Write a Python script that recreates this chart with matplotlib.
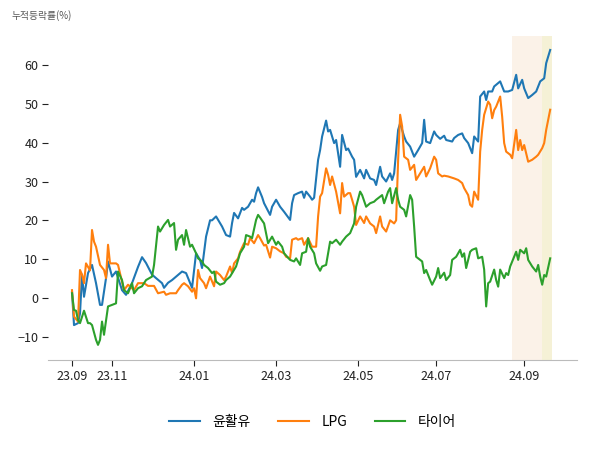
import matplotlib
matplotlib.use("Agg")
import matplotlib.pyplot as plt

plt.rcParams['font.family'] = ['Noto Sans CJK KR', 'DejaVu Sans']

# trading-day index (0 = 2023-09-27) and cumulative return (%)
lube_days = [0, 1, 3, 4, 5, 6, 8, 10, 12, 14, 15, 17, 18, 20, 22, 25, 27, 30, 33, 35,
             37, 40, 42, 45, 46, 48, 50, 53, 55, 57, 59, 60, 62, 64, 65, 67, 69, 70, 72, 74,
             75, 77, 79, 80, 81, 83, 85, 86, 88, 90, 91, 92, 93, 95, 96, 99, 100, 102, 104, 106,
             109, 110, 111, 113, 115, 116, 117, 119, 120, 121, 123, 124, 125, 127, 128, 129, 131, 132, 134, 135,
             137, 138, 140, 141, 142, 144, 146, 147, 149, 151, 152, 154, 155, 157, 159, 160, 161, 163, 164, 166,
             167, 169, 171, 173, 175, 176, 177, 179, 181, 182, 184, 186, 187, 190, 191, 193, 195, 196, 198, 200,
             201, 203, 204, 206, 207, 208, 210, 211, 214, 216, 218, 220, 222, 223, 225, 226, 228, 230, 232, 234,
             236, 237, 239]
lube_vals = [1.5, -7, -6.5, -4, 6, 0.3, 6.4, 8.5, 3.8, -1.8, -1.8, 5.1, 9.4, 5.5, 6.8, 2, 0.8, 3.8, 8, 10.5,
             9, 6, 5.1, 3.8, 2.6, 3.9, 4.6, 5.9, 6.8, 6.4, 3.9, 2.6, 11.5, 9.8, 7.7, 15.8, 20, 20, 21, 19.3,
             18.4, 16.2, 15.8, 19.3, 21.9, 20.5, 23.2, 22.7, 23.5, 25.3, 24.8, 27, 28.5, 26, 24.4, 21.4, 23.5, 25.3, 23.5, 22.2,
             20.1, 24.4, 26.5, 27, 27.4, 25.8, 27.4, 26.1, 25.3, 25.8, 35.6, 38.1, 41.6, 45.7, 42.9, 43.3, 39.9, 40.7, 33.8, 42,
             38.1, 38.5, 36.4, 35.6, 31.2, 33, 30.8, 33, 30.8, 30.4, 29.1, 33.8, 31.3, 30, 32.1, 30.4, 32.1, 43.3, 45, 41.6,
             40.3, 39, 36.4, 38.1, 39.9, 45.9, 40.3, 39.9, 42.9, 42, 41, 41.8, 40.7, 40.3, 41.2, 42, 42.4, 41.2, 39.9, 37.3,
             41.6, 40.3, 51.9, 53.2, 51, 53.2, 53.2, 54.5, 55.8, 53.2, 53.2, 53.6, 57.5, 54, 56.2, 54, 51.5, 52.3, 53.2, 55.8,
             56.6, 60.5, 63.9]

lpg_days = [0, 1, 3, 4, 5, 6, 7, 9, 10, 11, 12, 14, 16, 17, 18, 19, 22, 23, 25, 26,
            28, 31, 33, 36, 38, 41, 43, 46, 47, 49, 52, 53, 55, 56, 58, 60, 61, 62, 63, 64,
            66, 67, 69, 71, 72, 74, 76, 77, 79, 80, 81, 83, 84, 86, 88, 89, 91, 93, 94, 96,
            97, 99, 100, 102, 104, 106, 107, 109, 110, 112, 113, 115, 116, 118, 120, 122, 123, 124, 125, 127,
            128, 129, 130, 132, 134, 135, 136, 138, 139, 140, 141, 142, 144, 146, 147, 149, 151, 152, 154, 155,
            157, 159, 161, 162, 163, 164, 165, 166, 168, 169, 171, 172, 174, 176, 177, 179, 181, 182, 183, 185,
            186, 188, 191, 193, 195, 196, 198, 199, 200, 201, 203, 204, 205, 206, 208, 209, 210, 211, 212, 214,
            215, 216, 217, 219, 220, 222, 223, 224, 225, 226, 228, 230, 232, 233, 235, 236, 237, 239]
lpg_vals = [2, -4.8, -6.1, 7.2, 6, 3.8, 8.9, 7.1, 17.5, 14.5, 13.2, 8.5, 7.2, 5.1, 13.7, 8.9, 8.9, 8.5, 4.2, 2,
            3.4, 2, 3.8, 3.8, 3.1, 3.1, 1.2, 1.6, 0.8, 1.2, 1.2, 2, 3.4, 3.8, 3.0, 1.6, 2.5, -0.1, 7.2, 5.1,
            3.8, 2.5, 5.5, 3.0, 6.8, 5.9, 4.6, 5.5, 8.1, 6.4, 8.9, 10.2, 11.9, 14.1, 13.7, 15.4, 14.1, 16.2, 15.4, 13.5,
            13.7, 10.4, 13.2, 12.8, 12, 11.5, 10.6, 10.2, 15, 15.4, 15, 15.4, 13.7, 15.4, 13.2, 13.2, 21, 26.1, 27, 33.4,
            31.7, 29.1, 31.3, 27.4, 21.8, 29.6, 26.1, 27, 27, 25.3, 23.5, 18.8, 21, 19.3, 21, 19.2, 18.4, 16.7, 21, 18.4,
            17.1, 20, 19.2, 20, 35.6, 47.2, 44.2, 36.4, 35.6, 33, 34.3, 30.4, 32.1, 33.8, 31.3, 33.4, 36.4, 35.6, 32.1, 31.3,
            31.5, 31.3, 30.8, 30.4, 29.6, 28.3, 26.5, 24, 23.5, 27.4, 25.3, 37.7, 43.3, 47.2, 50.6, 49.8, 46.3, 48.4, 49.3, 51.9,
            46.7, 39.9, 37.7, 36.9, 36, 43.3, 38.1, 40.7, 38.1, 39.4, 35.1, 35.6, 36.4, 36.9, 38.6, 39.9, 43.3, 48.5]

tire_days = [0, 1, 2, 3, 4, 6, 8, 9, 10, 12, 13, 14, 15, 16, 18, 20, 22, 23, 25, 26,
             28, 30, 31, 33, 35, 37, 40, 41, 43, 44, 46, 48, 49, 51, 52, 53, 55, 56, 57, 59,
             60, 62, 63, 65, 66, 68, 70, 71, 72, 74, 76, 77, 79, 81, 82, 84, 86, 87, 89, 90,
             92, 93, 94, 96, 97, 98, 100, 102, 103, 105, 106, 109, 111, 112, 114, 115, 117, 118, 119, 121,
             122, 124, 125, 127, 129, 130, 132, 134, 135, 137, 139, 141, 142, 144, 145, 147, 149, 151, 152, 154,
             155, 156, 158, 159, 160, 162, 163, 164, 166, 167, 169, 170, 171, 172, 174, 175, 176, 177, 179, 180,
             182, 183, 184, 186, 187, 189, 190, 192, 194, 195, 196, 197, 199, 200, 202, 203, 205, 206, 207, 208,
             209, 211, 212, 213, 214, 216, 217, 218, 219, 221, 222, 223, 224, 226, 227, 228, 230, 232, 233, 234,
             235, 236, 237, 239]
tire_vals = [1.2, -3.1, -3.3, -5.7, -6.5, -3.3, -6.5, -6.5, -7, -10.8, -12.1, -10.8, -6.1, -9.5, -2.2, -1.8, -1.4, 6.8, 4.6, 2,
             1.2, 3.8, 1.2, 2.5, 3, 4.6, 5.5, 8.5, 18.4, 17.1, 18.8, 20.1, 18.4, 19.3, 12.4, 15, 16.2, 13.7, 17.5, 13.2,
             13.7, 11.5, 10.2, 9.4, 8.5, 7.7, 6.4, 6.8, 4.2, 3.4, 3.8, 4.6, 5.5, 7.2, 8.1, 11.5, 13.2, 16.2, 15.8, 15.4,
             20.1, 21.4, 20.7, 19.2, 16.7, 14.1, 15.8, 13.7, 14.5, 13.2, 11.5, 9.8, 9.4, 10.2, 8.5, 11.5, 11.9, 15.4, 13.2, 11.5,
             8.9, 7, 8.1, 8.5, 14.5, 14.1, 15, 13.7, 14.5, 15.8, 16.7, 19.2, 23.5, 27.4, 26.5, 23.5, 24.4, 24.8, 25.3, 26.1,
             26.5, 24.4, 27.4, 28.3, 24.4, 28.3, 25.3, 23.5, 22.7, 21, 26.5, 25.3, 18.4, 10.6, 9.8, 9.4, 6.4, 7.2, 4.6, 3.4,
             5.5, 7.7, 5.1, 6.5, 4.6, 5.9, 9.8, 10.6, 12.4, 10.6, 11.5, 7.7, 11.9, 12.4, 12.8, 10.2, 10.6, 7.3, -2.2, 3.8,
             4.2, 7.3, 4.6, 2.9, 7.3, 5.1, 6.4, 5.9, 8.1, 10.6, 11.9, 9.8, 12.4, 11.5, 12.8, 9.8, 8.1, 6.8, 8.5, 5.5,
             3.4, 5.9, 5.5, 10.2]

month_ticks = [0, 20, 61, 102, 143, 182, 226]
month_labels = ['23.09', '23.11', '24.01', '24.03', '24.05', '24.07', '24.09']

recent_month = (220, 235)
recent_week = (235, 240)

fig = plt.figure(figsize=(6, 4.5), dpi=100)
ax = fig.add_axes([0.08, 0.2, 0.882, 0.72])

ax.axvspan(*recent_month, color='#fbf2e8', lw=0, zorder=0)
ax.axvspan(*recent_week, color='#f5f1d6', lw=0, zorder=0)

ax.plot(lube_days, lube_vals, color='#1f77b4', lw=1.5, label='윤활유')
ax.plot(lpg_days, lpg_vals, color='#ff7f0e', lw=1.5, label='LPG')
ax.plot(tire_days, tire_vals, color='#2ca02c', lw=1.5, label='타이어')

ax.set_xlim(-12, 252.5)
ax.set_ylim(-16, 67.5)
ax.set_yticks([-10, 0, 10, 20, 30, 40, 50, 60])
ax.set_xticks(month_ticks)
ax.set_xticklabels(month_labels)

for side in ['left', 'top', 'right']:
    ax.spines[side].set_visible(False)
ax.spines['bottom'].set_color('#bbbbbb')
ax.tick_params(axis='y', length=4, width=0.8, labelsize=9, colors='#222222', pad=3)
ax.tick_params(axis='x', length=4, width=0.8, labelsize=9, colors='#222222', pad=3)

fig.text(0.02, 0.965, '누적등락률(%)', fontsize=7, color='#555555', ha='left', va='center')

ax.legend(loc='upper center', bbox_to_anchor=(0.5, -0.13), ncol=3, frameon=False,
          fontsize=10, handlelength=2.2, handletextpad=0.9, columnspacing=2.0)

fig.savefig('out.png', dpi=100)
